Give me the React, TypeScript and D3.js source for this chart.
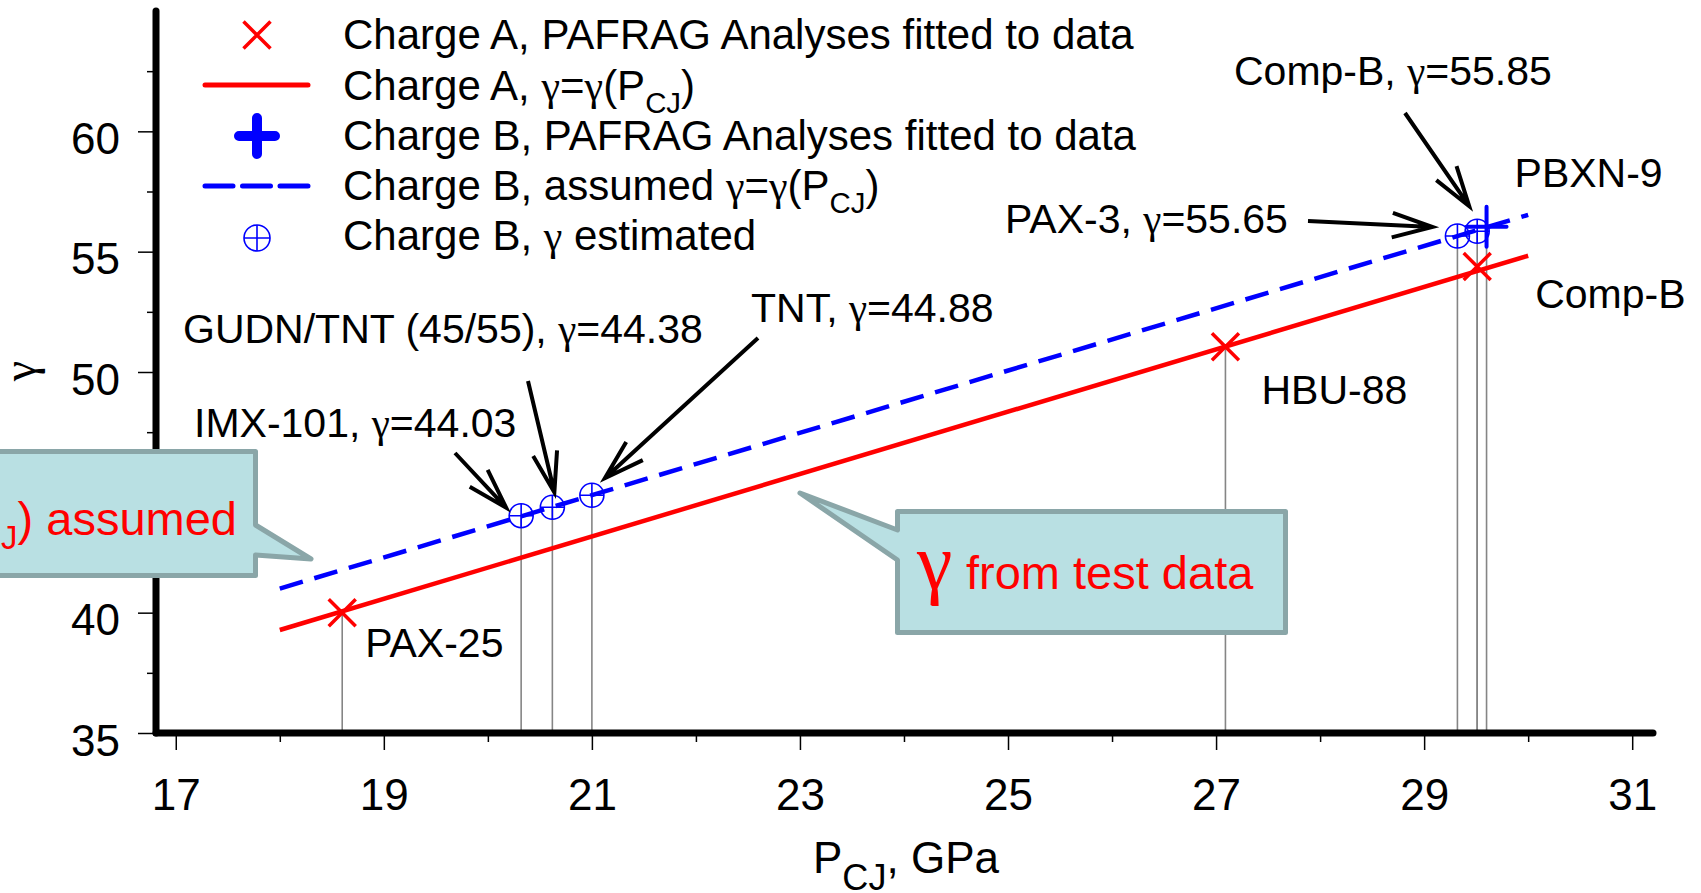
import React, { useEffect, useRef } from 'react'
import * as d3 from 'd3'

// Charge A, PAFRAG analyses fitted to data
const chargeANames = ['PAX-25', 'HBU-88', 'Comp-B']
const chargeAPcj = [18.6, 27.09, 29.51]
const chargeAGamma = [40.0, 51.05, 54.38]

// Charge A, gamma = gamma(Pcj)
const lineAPcj = [18, 30]
const lineAGamma = [39.28, 54.83]

// Charge B, PAFRAG analyses fitted to data
const chargeBNames = ['PBXN-9']
const chargeBPcj = [29.6]
const chargeBGamma = [56.04]

// Charge B, assumed gamma = gamma(Pcj)
const lineBPcj = [18, 30]
const lineBGamma = [41.0, 56.53]

// Charge B, gamma estimated
const estNames = ['IMX-101', 'GUDN/TNT (45/55)', 'TNT', 'PAX-3', 'Comp-B']
const estPcj = [20.32, 20.62, 21.0, 29.32, 29.51]
const estGamma = [44.03, 44.38, 44.88, 55.65, 55.85]

const xTicks = [17, 19, 21, 23, 25, 27, 29, 31]
const xMinorTicks = [18, 20, 22, 24, 26, 28, 30]
const yTicks = [35, 40, 45, 50, 55, 60]
const yMinorTicks = [37.5, 42.5, 47.5, 52.5, 57.5, 62.5]

const SANS = "'Liberation Sans', Arial, Helvetica, sans-serif"
const SERIF = "'Liberation Serif', 'Times New Roman', serif"
const RED = '#ff0000'
const BLUE = '#0000ff'
const GREY = '#858585'
const BOX_FILL = '#b9e0e3'
const BOX_EDGE = '#8aa6a8'

type Seg = { t: string; serif?: boolean; sub?: boolean }

// text with gamma glyphs in serif and CJ subscripts
function richText(parent: any, x: number, y: number, segs: Seg[], size: number, color = '#000',
    anchor = 'start', subScale = 0.7, subShift = 0.3) {
    const txt = parent.append('text')
        .attr('x', x).attr('y', y)
        .attr('font-family', SANS)
        .attr('font-size', size)
        .attr('fill', color)
        .attr('text-anchor', anchor)
        .style('white-space', 'pre')
    let down = false
    segs.forEach((s) => {
        const ts = txt.append('tspan').text(s.t)
        if (s.serif) ts.attr('font-family', SERIF)
        if (s.sub) {
            ts.attr('font-size', size * subScale)
            if (!down) { ts.attr('dy', size * subShift); down = true }
        } else if (down) {
            ts.attr('dy', -size * subShift); down = false
        }
    })
    return txt
}

function arrow(g: any, x1: number, y1: number, x2: number, y2: number) {
    const a = Math.atan2(y1 - y2, x1 - x2)
    const len = 42
    const da = 17 * Math.PI / 180
    const p = d3.path()
    p.moveTo(x1, y1)
    p.lineTo(x2, y2)
    p.moveTo(x2 + len * Math.cos(a - da), y2 + len * Math.sin(a - da))
    p.lineTo(x2, y2)
    p.lineTo(x2 + len * Math.cos(a + da), y2 + len * Math.sin(a + da))
    g.append('path').attr('d', p.toString())
        .attr('fill', 'none').attr('stroke', '#000').attr('stroke-width', 4)
}

function xMark(g: any, cx: number, cy: number, h: number) {
    g.append('path')
        .attr('d', `M${cx - h},${cy - h}L${cx + h},${cy + h}M${cx - h},${cy + h}L${cx + h},${cy - h}`)
        .attr('stroke', RED).attr('stroke-width', 3.5).attr('fill', 'none')
}

function plusMark(g: any, cx: number, cy: number, h: number, w: number) {
    g.append('path')
        .attr('d', `M${cx - h},${cy}L${cx + h},${cy}M${cx},${cy - h}L${cx},${cy + h}`)
        .attr('stroke', BLUE).attr('stroke-width', w).attr('stroke-linecap', 'round').attr('fill', 'none')
}

function circlePlus(g: any, cx: number, cy: number, r: number) {
    g.append('circle').attr('cx', cx).attr('cy', cy).attr('r', r)
        .attr('fill', 'none').attr('stroke', BLUE).attr('stroke-width', 1.6)
    g.append('path')
        .attr('d', `M${cx - r},${cy}L${cx + r},${cy}M${cx},${cy - r}L${cx},${cy + r}`)
        .attr('stroke', BLUE).attr('stroke-width', 1.6)
}

const gammaLabel = (name: string, v: number): Seg[] => [
    { t: name + ', ' }, { t: 'γ', serif: true }, { t: '=' + v.toFixed(2) }
]
const gammaOfP = (prefix: string): Seg[] => [
    { t: prefix }, { t: 'γ', serif: true }, { t: '=' }, { t: 'γ', serif: true },
    { t: '(P' }, { t: 'CJ', sub: true }, { t: ')' }
]

const legendLabels: Seg[][] = [
    [{ t: 'Charge A, PAFRAG Analyses fitted to data' }],
    gammaOfP('Charge A, '),
    [{ t: 'Charge B, PAFRAG Analyses fitted to data' }],
    gammaOfP('Charge B, assumed '),
    [{ t: 'Charge B, ' }, { t: 'γ', serif: true }, { t: ' estimated' }],
]

function App() {
    const svgRef = useRef<SVGSVGElement>(null)

    useEffect(() => {
        const svg = d3.select(svgRef.current)
        svg.selectAll('*').remove()

        const x = d3.scaleLinear().domain([16.81, 31.2]).range([156, 1653])
        const y = d3.scaleLinear().domain([35, 65]).range([733, 11])
        const y0 = y(35)

        // drop lines down to the axis
        const drops = svg.append('g').attr('stroke', GREY).attr('stroke-width', 1.6)
        const allP = [...chargeAPcj, ...chargeBPcj, ...estPcj]
        const allG = [...chargeAGamma, ...chargeBGamma, ...estGamma]
        allP.forEach((p, i) => {
            drops.append('line').attr('x1', x(p)).attr('x2', x(p)).attr('y1', y(allG[i])).attr('y2', y0)
        })

        const lineA = d3.line<number>().x((d) => x(d)).y((d, i) => y(lineAGamma[i]))
        const lineB = d3.line<number>().x((d) => x(d)).y((d, i) => y(lineBGamma[i]))
        svg.append('path').attr('d', lineA(lineAPcj))
            .attr('fill', 'none').attr('stroke', RED).attr('stroke-width', 4.5)
        svg.append('path').attr('d', lineB(lineBPcj))
            .attr('fill', 'none').attr('stroke', BLUE).attr('stroke-width', 4.5).attr('stroke-dasharray', '24 12')

        // axes
        const xAxis = svg.append('g').attr('transform', `translate(0,${y0})`)
            .call(d3.axisBottom(x).tickValues(xTicks).tickSize(17).tickPadding(29).tickFormat(d3.format('d')))
        xAxis.append('g').call(d3.axisBottom(x).tickValues(xMinorTicks).tickSize(9).tickFormat(() => ''))
        const yAxis = svg.append('g').attr('transform', `translate(${x(16.81)},0)`)
            .call(d3.axisLeft(y).tickValues(yTicks).tickSize(18).tickPadding(18).tickFormat(d3.format('d')))
        yAxis.append('g').call(d3.axisLeft(y).tickValues(yMinorTicks).tickSize(9).tickFormat(() => ''))
        svg.selectAll('.domain').remove()
        svg.selectAll('.tick line').attr('stroke', '#000').attr('stroke-width', 1.5)
        svg.selectAll('.tick text').attr('font-family', SANS).attr('font-size', 44).attr('fill', '#000')
        yAxis.selectAll('.tick text').attr('dy', 22)

        svg.append('line').attr('x1', x(16.81)).attr('x2', x(31.2)).attr('y1', y0).attr('y2', y0)
            .attr('stroke', '#000').attr('stroke-width', 7).attr('stroke-linecap', 'round')
        svg.append('line').attr('x1', x(16.81)).attr('x2', x(16.81)).attr('y1', y0).attr('y2', y(65))
            .attr('stroke', '#000').attr('stroke-width', 7).attr('stroke-linecap', 'round')

        richText(svg, 813, 873, [{ t: 'P' }, { t: 'CJ', sub: true }, { t: ', GPa' }], 44, '#000', 'start', 0.82, 0.38)
        svg.append('text').attr('transform', 'translate(35,371) rotate(-90)')
            .attr('text-anchor', 'middle').attr('font-family', SERIF).attr('font-size', 46).text('γ')

        // markers
        const marks = svg.append('g')
        chargeAPcj.forEach((p, i) => xMark(marks, x(p), y(chargeAGamma[i]), 13.5))
        estPcj.forEach((p, i) => circlePlus(marks, x(p), y(estGamma[i]), 12))
        chargeBPcj.forEach((p, i) => plusMark(marks, x(p), y(chargeBGamma[i]), 20, 4))

        // point labels
        const ann = svg.append('g')
        const nameOffsets: Record<string, [number, number]> = {
            'PAX-25': [23, 44], 'HBU-88': [36, 57], 'Comp-B': [58, 41], 'PBXN-9': [28, -40],
        }
        chargeANames.forEach((n, i) => {
            const o = nameOffsets[n]
            richText(ann, x(chargeAPcj[i]) + o[0], y(chargeAGamma[i]) + o[1], [{ t: n }], 41)
        })
        chargeBNames.forEach((n, i) => {
            const o = nameOffsets[n]
            richText(ann, x(chargeBPcj[i]) + o[0], y(chargeBGamma[i]) + o[1], [{ t: n }], 41)
        })

        // estimated gamma callouts: label position, arrow start, arrow tip offset from the point
        const estLayout: Record<string, { tx: number; ty: number; sx: number; sy: number; dx: number; dy: number }> = {
            'IMX-101': { tx: 194, ty: 437, sx: 455, sy: 453, dx: -15, dy: -8 },
            'GUDN/TNT (45/55)': { tx: 183, ty: 343, sx: 528, sy: 381, dx: 2, dy: -15 },
            'TNT': { tx: 751, ty: 322, sx: 758, sy: 338, dx: 13, dy: -17 },
            'PAX-3': { tx: 1005, ty: 233, sx: 1308, sy: 221, dx: -25, dy: -9 },
            'Comp-B': { tx: 1234, ty: 85, sx: 1405, sy: 113, dx: -8, dy: -25 },
        }
        estNames.forEach((n, i) => {
            const l = estLayout[n]
            richText(ann, l.tx, l.ty, gammaLabel(n, estGamma[i]), 41)
            arrow(ann, l.sx, l.sy, x(estPcj[i]) + l.dx, y(estGamma[i]) + l.dy)
        })

        // legend
        const leg = svg.append('g')
        const lx = 257
        const rows = [49, 100, 150, 200, 250]
        xMark(leg, lx, rows[0] - 14, 13.5)
        leg.append('line').attr('x1', 205).attr('x2', 308).attr('y1', rows[1] - 15).attr('y2', rows[1] - 15)
            .attr('stroke', RED).attr('stroke-width', 5).attr('stroke-linecap', 'round')
        plusMark(leg, lx, rows[2] - 14, 18, 10)
        leg.append('line').attr('x1', 205).attr('x2', 308).attr('y1', rows[3] - 14).attr('y2', rows[3] - 14)
            .attr('stroke', BLUE).attr('stroke-width', 5).attr('stroke-linecap', 'round').attr('stroke-dasharray', '28 9.5')
        circlePlus(leg, lx, rows[4] - 12, 13)
        legendLabels.forEach((segs, i) => richText(leg, 343, rows[i], segs, 42))

        // callout boxes
        svg.append('path')
            .attr('d', 'M-10,451.5L255.5,451.5L255.5,525L311,559L255.5,555L255.5,575.5L-10,575.5Z')
            .attr('fill', BOX_FILL).attr('stroke', BOX_EDGE).attr('stroke-width', 5).attr('stroke-linejoin', 'round')
        richText(svg, 237, 535, gammaOfP(''), 47, RED, 'end').append('tspan').text(' assumed')

        svg.append('path')
            .attr('d', 'M897.5,511.5L1285.5,511.5L1285.5,632.5L897.5,632.5L897.5,560L800,493L897.5,530Z')
            .attr('fill', BOX_FILL).attr('stroke', BOX_EDGE).attr('stroke-width', 5).attr('stroke-linejoin', 'round')
        svg.append('text').attr('x', 917).attr('y', 589).attr('font-family', SERIF).attr('font-size', 80)
            .attr('fill', RED).text('γ')
        svg.append('text').attr('x', 966).attr('y', 589).attr('font-family', SANS).attr('font-size', 47)
            .attr('fill', RED).text('from test data')
    }, [])

    return (
        <svg ref={svgRef} width={1701} height={893}
            style={{ position: 'absolute', left: 0, top: 0, background: '#fff' }} />
    )
}

export default App
